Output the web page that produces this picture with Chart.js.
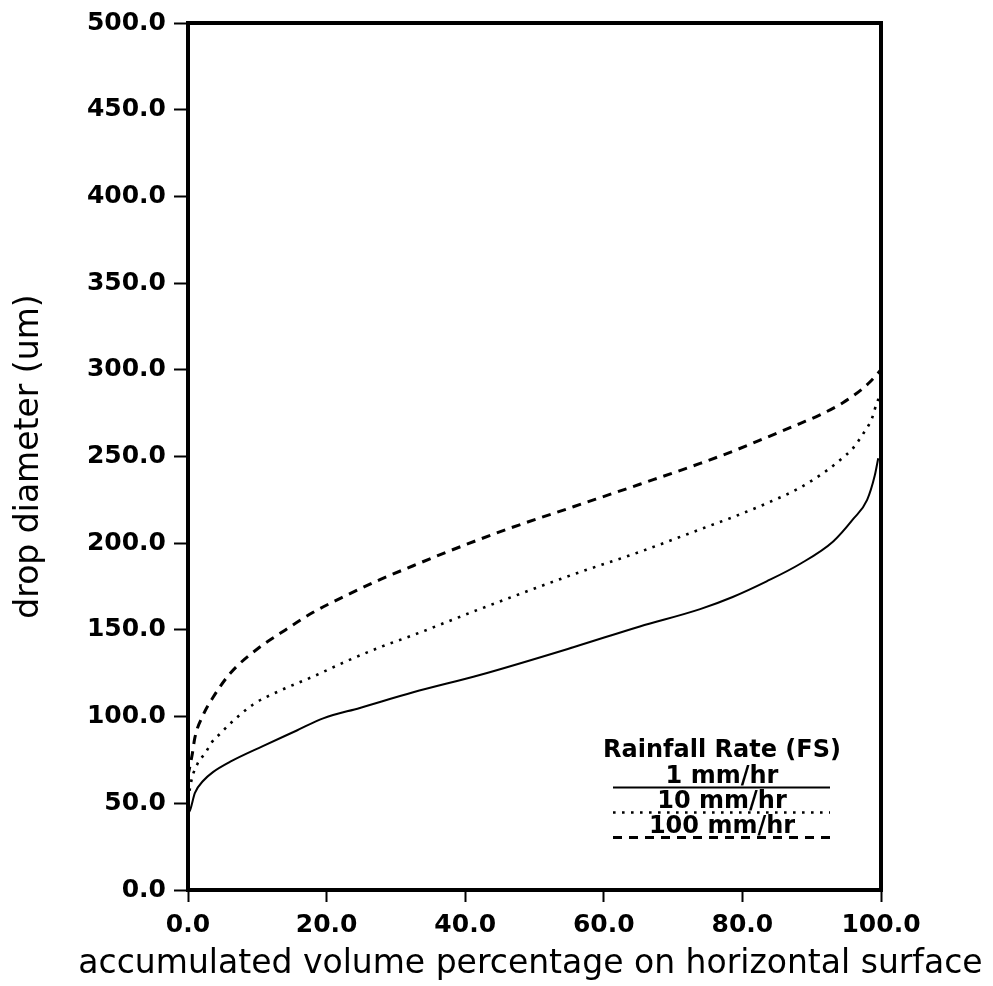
<!DOCTYPE html>
<html><head><meta charset="utf-8">
<script src="https://cdn.jsdelivr.net/npm/chart.js@4/dist/chart.umd.min.js"></script>
<style>html,body{margin:0;padding:0;background:#fff}canvas{display:block}</style>
</head><body>
<canvas id="c" width="993" height="986"></canvas>
<script>
// ---- data ----
const seriesLabels = ['1 mm/hr', '10 mm/hr', '100 mm/hr'];

const xSolid = [0, 0.3, 1, 2.2, 3.6, 6.1, 10.8, 15.7, 19.5, 24.8, 32.5, 42.1, 55.6, 65.2, 73.9, 78.6, 83.5, 88.3, 93.1, 96, 98, 99.1, 99.6];
const ySolid = [44, 46, 56, 63, 68, 74, 83, 92, 99, 105, 114, 124, 140, 152, 162, 169, 178, 188, 201, 214, 225, 239, 249];

const xDotted = [0, 0.3, 0.6, 1.4, 2.5, 3.4, 4.6, 6.1, 9.4, 13.3, 18, 22.9, 27.7, 32.5, 42.1, 55.6, 65.2, 73.9, 78.6, 83.5, 88.3, 92.2, 94.1, 96, 97.4, 98.7, 99.4, 100];
const yDotted = [52, 59, 65, 73, 79, 85, 90, 96, 107, 115, 123, 132, 140, 147, 162, 182, 195, 208, 215, 223, 232, 242, 248, 255, 263, 272, 281, 286];

const xDashed = [0, 0.6, 1, 2.2, 3.6, 6.1, 10, 13.3, 18, 22.9, 27.7, 32.5, 37.4, 46, 55.6, 65.2, 73.9, 78.6, 83.5, 88.3, 91.2, 94.5, 97.3, 98.4, 100];
const yDashed = [66, 78, 88, 101, 111, 125, 139, 148, 160, 170, 179, 187, 195, 208, 221, 234, 246, 253, 261, 269, 274, 281, 289, 293, 300];

const xTickValues = [0, 20, 40, 60, 80, 100];
const yTickValues = [0, 50, 100, 150, 200, 250, 300, 350, 400, 450, 500];

const legendTitle = 'Rainfall Rate (FS)';
const xTitle = 'accumulated volume percentage on horizontal surface';
const yTitle = 'drop diameter (um)';

// ---- helpers ----
const pts = (xs, ys) => xs.map((x, i) => ({ x: x, y: ys[i] }));
const TICK_FONT = { family: '"DejaVu Sans"', size: 25, weight: 'bold' };
const TITLE_FONT = { family: '"DejaVu Sans"', size: 33, weight: 'normal' };

const framePlugin = {
  id: 'frame',
  beforeDraw(chart) {
    const c = chart.ctx;
    c.save(); c.fillStyle = '#fff'; c.fillRect(0, 0, chart.width, chart.height); c.restore();
  },
  afterDraw(chart) {
    const c = chart.ctx, a = chart.chartArea;
    c.save();
    c.strokeStyle = '#000'; c.lineWidth = 4;
    c.strokeRect(a.left, a.top, a.right - a.left, a.bottom - a.top);
    // x-axis title (drawn here so it is not squeezed to the axis width)
    c.fillStyle = '#000';
    c.font = '33px "DejaVu Sans"';
    c.textAlign = 'center';
    c.textBaseline = 'middle';
    c.fillText(xTitle, (a.left + a.right) / 2 - 4, 964);
    c.restore();
  }
};

const legendPlugin = {
  id: 'boxLegend',
  afterDraw(chart) {
    const c = chart.ctx;
    const cx = 722, lx0 = 613, lx1 = 830;
    c.save();
    c.fillStyle = '#000';
    c.textAlign = 'center';
    c.textBaseline = 'alphabetic';
    c.font = 'bold 24px "DejaVu Sans"';
    c.fillText(legendTitle, cx, 757);
    chart.data.datasets.forEach((ds, i) => {
      const base = 783 + i * 25;
      c.fillStyle = '#000';
      c.fillText(ds.label, cx, base);
      c.beginPath();
      c.strokeStyle = ds.borderColor;
      c.lineWidth = ds.borderWidth;
      c.lineCap = ds.borderCapStyle || 'butt';
      c.setLineDash(ds.borderDash || []);
      c.moveTo(lx0, base + 4.5);
      c.lineTo(lx1, base + 4.5);
      c.stroke();
    });
    c.restore();
  }
};

new Chart(document.getElementById('c'), {
  type: 'scatter',
  data: {
    datasets: [
      { label: seriesLabels[0], data: pts(xSolid, ySolid), showLine: true, borderColor: '#000', borderWidth: 2, borderDash: [], pointRadius: 0, cubicInterpolationMode: 'monotone' },
      { label: seriesLabels[1], data: pts(xDotted, yDotted), showLine: true, borderColor: '#000', borderWidth: 2.6, borderDash: [2.6, 6.4], pointRadius: 0, cubicInterpolationMode: 'monotone' },
      { label: seriesLabels[2], data: pts(xDashed, yDashed), showLine: true, borderColor: '#000', borderWidth: 3, borderDash: [9, 7], pointRadius: 0, cubicInterpolationMode: 'monotone' }
    ]
  },
  options: {
    responsive: false,
    animation: false,
    layout: { padding: { left: 10, right: 112, top: 18, bottom: 0 } },
    plugins: { legend: { display: false }, tooltip: { enabled: false } },
    scales: {
      x: {
        type: 'linear', min: 0, max: 100,
        afterBuildTicks: s => { s.ticks = xTickValues.map(v => ({ value: v })); },
        afterFit: s => { s.height = 986 - 890; },
        ticks: { callback: v => Number(v).toFixed(1), font: TICK_FONT, color: '#000', padding: 8, maxRotation: 0 },
        grid: { drawOnChartArea: false, drawTicks: true, tickLength: 12, tickWidth: 2, tickColor: '#000' },
        border: { display: true, width: 4, color: '#000' },
        title: { display: false }
      },
      y: {
        type: 'linear', min: 0, max: 500,
        afterBuildTicks: s => { s.ticks = yTickValues.map(v => ({ value: v })); },
        afterFit: s => { s.width = 188 - 10; },
        ticks: { callback: v => Number(v).toFixed(1), font: TICK_FONT, color: '#000', padding: 8 },
        grid: { drawOnChartArea: false, drawTicks: true, tickLength: 14, tickWidth: 2, tickColor: '#000' },
        border: { display: true, width: 4, color: '#000' },
        title: { display: true, text: yTitle, font: TITLE_FONT, color: '#000', padding: { top: 0, bottom: 0 } }
      }
    }
  },
  plugins: [framePlugin, legendPlugin]
});
</script>
</body></html>
